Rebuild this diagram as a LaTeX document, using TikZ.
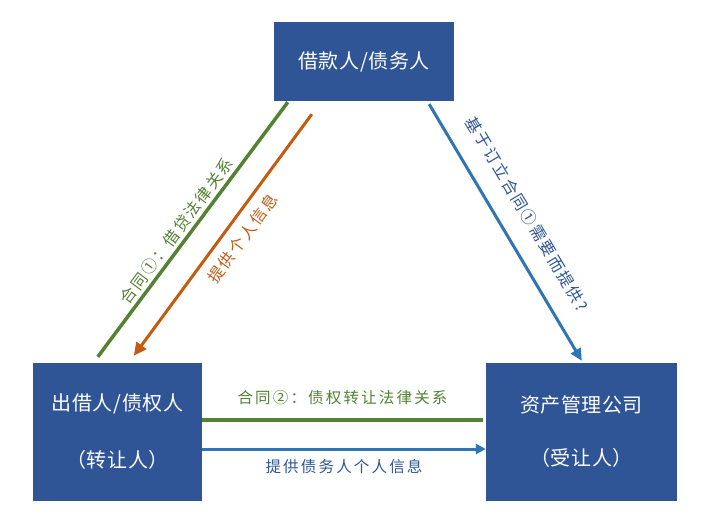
\documentclass[tikz,border=0pt]{standalone}
\usepackage{fontspec}
\setmainfont{Noto Sans CJK SC}
\usetikzlibrary{arrows.meta,calc}
\definecolor{boxblue}{HTML}{2F5597}
\definecolor{lgreen}{HTML}{548235}
\definecolor{lorange}{HTML}{C55A11}
\definecolor{lblue}{HTML}{2E75B6}
\definecolor{tblue}{HTML}{2F5597}
\tikzset{
  box/.style={fill=boxblue, draw=none, text=white, align=center, inner sep=0pt,
    font=\fontsize{20}{23}\selectfont\addfontfeatures{LetterSpace=3}},
  diaglbl/.style={inner sep=0pt, font=\fontsize{16}{19}\selectfont\addfontfeatures{LetterSpace=12}},
  horlbl/.style={inner sep=0pt, font=\fontsize{15.5}{18}\selectfont\addfontfeatures{LetterSpace=14}},
  gline/.style={draw=lgreen, line width=3.5pt},
  oline/.style={draw=lorange, line width=3pt, -{Triangle[length=13pt,width=12pt]}},
  bline/.style={draw=lblue, line width=3pt, -{Triangle[length=12pt,width=11pt]}},
  bhline/.style={draw=lblue, line width=3pt, -{Triangle[length=10pt,width=10pt]}},
}
\begin{document}
\begin{tikzpicture}[x=1pt,y=-1pt]
\useasboundingbox[fill=white] (0,0) rectangle (728,528);

\node[box, minimum width=180pt, minimum height=79pt] (top) at (364,61.5) {借款人/债务人};
\node[box, minimum width=169pt, minimum height=138pt] (lend) at (117.5,432) {出借人/债权人\\[34pt]（转让人）};
\node[box, minimum width=191pt, minimum height=138pt] (mgmt) at (581.5,432) {资产管理公司\\[30pt]（受让人）};

% green diagonal: contract 1
\draw[gline] ([xshift=65pt,yshift=6pt]lend.north west) --
  node[diaglbl, sloped, pos=0.466, above=3pt, text=lgreen] (l1) {合同①：借贷法律关系}
  ([xshift=14pt,yshift=-1pt]top.south west);

% orange diagonal arrow
\draw[oline] ([xshift=38pt,yshift=-13pt]top.south west) --
  node[diaglbl, sloped, pos=0.47, below=9pt, text=lorange] (l2) {提供个人信息}
  ([xshift=101pt,yshift=7pt]lend.north west);

% blue diagonal arrow
\draw[bline] ([xshift=-25pt,yshift=-3pt]top.south east) --
  node[diaglbl, sloped, pos=0.484, above=19pt, text=tblue] (l3) {基于订立合同①需要而提供?}
  ([xshift=96pt,yshift=2pt]mgmt.north west);

% green horizontal
\draw[gline] ([yshift=12pt]lend.east) --
  node[horlbl, above=13pt, text=lgreen] (l4) {合同②：债权转让法律关系}
  ([yshift=12pt,xshift=-3pt]mgmt.west);

% blue horizontal arrow
\draw[bhline] ([yshift=-17pt]lend.east) --
  node[horlbl, below=9pt, text=tblue] (l5) {提供债务人个人信息}
  ([yshift=-17pt]mgmt.west);
\end{tikzpicture}
\end{document}
